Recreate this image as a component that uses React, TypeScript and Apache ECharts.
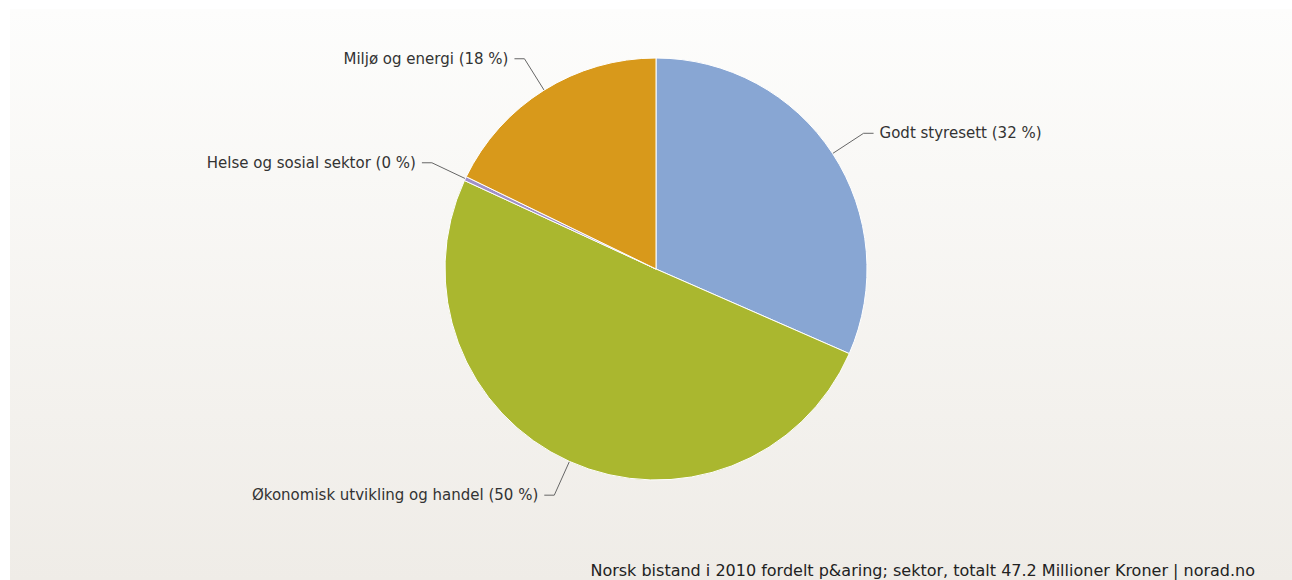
import React, { useEffect, useRef } from "react";
import * as echarts from "echarts";

const sectors = ["Godt styresett", "Økonomisk utvikling og handel", "Helse og sosial sektor", "Miljø og energi"];
const amounts = [14.9, 23.75, 0.15, 8.4];
const colors = ["#88a6d3", "#aab72f", "#a090c8", "#d8991b"];
const creditText = "Norsk bistand i 2010 fordelt p&aring; sektor, totalt 47.2 Millioner Kroner | norad.no";

export default function App() {
  const ref = useRef<HTMLDivElement>(null);
  useEffect(() => {
    if (!ref.current) return;
    const chart = echarts.init(ref.current, null, { renderer: "svg" });
    const total = amounts.reduce((a, b) => a + b, 0);
    chart.setOption({
      animation: false,
      backgroundColor: "#ffffff",
      graphic: [
        {
          type: "rect",
          z: -10,
          silent: true,
          shape: { x: 10, y: 9, width: 1282, height: 571 },
          style: {
            fill: new echarts.graphic.LinearGradient(0, 0, 0, 1, [
              { offset: 0, color: "#fdfdfc" },
              { offset: 1, color: "#efece7" },
            ]),
          },
        },
        {
          type: "text",
          right: 37,
          top: 562,
          style: {
            text: creditText,
            fontFamily: "DejaVu Sans",
            fontSize: 16,
            fill: "#222",
          },
        },
      ],
      series: [
        {
          type: "pie",
          center: [656, 269],
          radius: [0, 211],
          startAngle: 90,
          clockwise: true,
          avoidLabelOverlap: false,
          itemStyle: { borderColor: "#ffffff", borderWidth: 1 },
          label: {
            show: true,
            fontFamily: "DejaVu Sans",
            fontSize: 15,
            color: "#333",
            distanceToLabelLine: 6,
            formatter: (p: any) => `${p.name} (${Math.round((p.value / total) * 100)} %)`,
          },
          labelLine: {
            show: true,
            length: 37,
            length2: 10,
            lineStyle: { color: "#666", width: 1 },
          },
          data: sectors.map((name, i) => ({
            name,
            value: amounts[i],
            itemStyle: { color: colors[i] },
          })),
        },
      ],
    });
    return () => chart.dispose();
  }, []);
  return (
    <div
      ref={ref}
      style={{ position: "absolute", left: 0, top: 0, width: 1292, height: 580 }}
    />
  );
}
